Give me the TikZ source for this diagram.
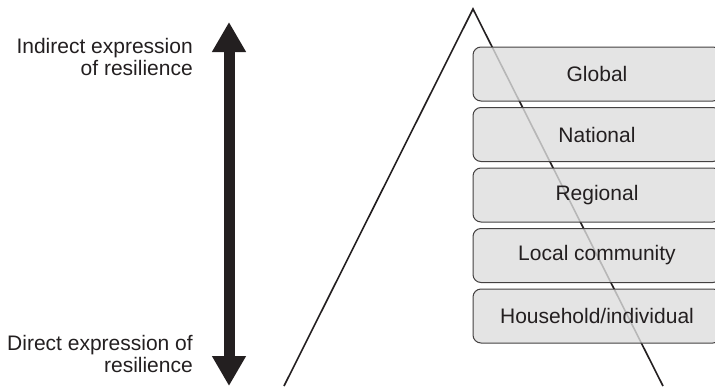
\documentclass[tikz,border=0pt]{standalone}
\usepackage{fontspec}
\setmainfont{Liberation Sans}
\usepackage{tikz}
\usetikzlibrary{arrows.meta}
\definecolor{inkgray}{HTML}{231F20}
\tikzstyle{level} = [rectangle, draw=inkgray!85, line width=1pt, fill=gray!27, fill opacity=0.8, text opacity=1,
    minimum width=248pt, minimum height=54pt, rounded corners=8pt, text=inkgray, inner sep=0pt]
\tikzstyle{side} = [align=right, inner sep=0pt, text=inkgray]
\tikzstyle{scale_arrow} = [draw=inkgray, line width=11pt, {Triangle[width=32pt,length=30pt]}-{Triangle[width=32pt,length=30pt]}]

\begin{document}
\begin{tikzpicture}[x=1pt, y=-1pt, node distance=60.5pt, font=\fontsize{21}{22.5}\selectfont]
    \useasboundingbox (0,0) rectangle (715,386);
    \clip (0,0) rectangle (715,386);
    % Draw pyramid
    \draw [line width=1.6pt, inkgray] (284,386) -- (473,9) -- (663,386);
    % Place nodes
    \node [level] at (597,74) (global) {Global};
    \node [level, below of=global] (national) {National};
    \node [level, below of=national] (regional) {Regional};
    \node [level, below of=regional] (local) {Local community};
    \node [level, below of=local] (household) {Household/individual};
    \node [side, anchor=north east] at (193,37.7) (indirect) {Indirect expression\\of resilience};
    \node [side, anchor=north east] at (193,334.7) (direct) {Direct expression of\\resilience};
    \coordinate (top) at (229,22);
    \coordinate (bottom) at (229,386);
    % Draw edges
    \path [scale_arrow] (top) -- (bottom);
\end{tikzpicture}
\end{document}
